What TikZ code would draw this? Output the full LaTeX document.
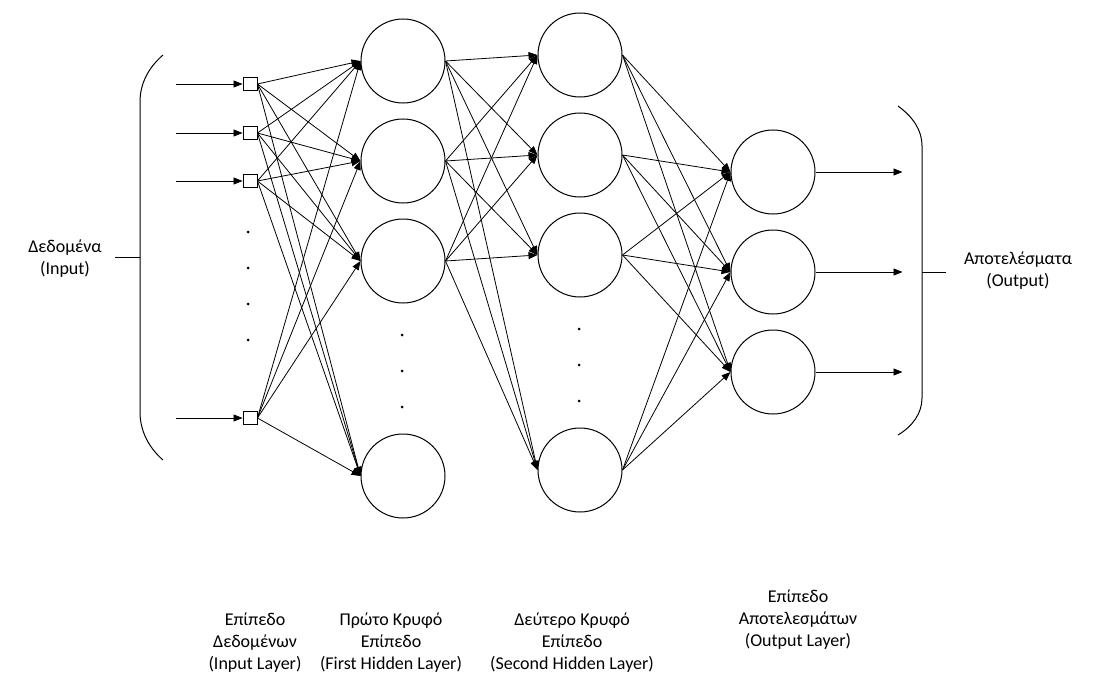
\documentclass[tikz,border=0pt]{standalone}
\usepackage{fontspec}
\setmainfont{Carlito}
\usetikzlibrary{arrows.meta}

\tikzset{
  neuron/.style={draw,circle,minimum size=84pt,inner sep=0pt,line width=1pt},
  inunit/.style={draw,rectangle,minimum width=14pt,minimum height=13pt,inner sep=0pt,line width=0.9pt},
  link/.style={line width=0.8pt,-{Triangle[length=9pt,width=7pt]}},
  vdot/.style={circle,fill,inner sep=0pt,minimum size=3pt},
  caption/.style={align=center,font=\fontsize{18}{22}\selectfont,inner sep=0pt}
}

\begin{document}
\begin{tikzpicture}[x=1pt,y=-1pt]
    \useasboundingbox (0,0) rectangle (1093,677);

    % input layer
    \node[inunit] (I1) at (250,84) {};
    \node[inunit] (I2) at (250,133) {};
    \node[inunit] (I3) at (250,181) {};
    \node[inunit] (I4) at (250,418) {};
    \foreach \i in {1,...,4} {
      \coordinate (S\i) at ([xshift=-67pt]I\i.west);
      \draw[link] (S\i) -- (I\i.west);
    }
    \foreach \y in {232,268,304,340}
      \node[vdot] at (248,\y) {};

    % first hidden layer
    \node[neuron] (H1) at (403,61) {};
    \node[neuron] (H2) at (403,161) {};
    \node[neuron] (H3) at (403,261) {};
    \node[neuron] (H4) at (403,476) {};
    \foreach \y in {335,371,407}
      \node[vdot] at (402,\y) {};

    % second hidden layer
    \node[neuron] (G1) at (580,55) {};
    \node[neuron] (G2) at (580,155) {};
    \node[neuron] (G3) at (580,255) {};
    \node[neuron] (G4) at (580,470) {};
    \foreach \y in {329,365,401}
      \node[vdot] at (579,\y) {};

    % output layer
    \node[neuron] (O1) at (773,172) {};
    \node[neuron] (O2) at (773,272) {};
    \node[neuron] (O3) at (773,372) {};
    \foreach \i in {1,2,3} {
      \coordinate (T\i) at ([xshift=87pt]O\i.east);
      \draw[link] (O\i.east) -- (T\i);
    }

    % weights
    \foreach \i in {1,...,4}
      \foreach \j in {1,...,4}
        \draw[link] (I\i.east) -- (H\j.west);
    \foreach \i in {1,2,3}
      \foreach \j in {1,...,4}
        \draw[link] (H\i.east) -- (G\j.west);
    \foreach \i in {1,...,4}
      \foreach \j in {1,2,3}
        \draw[link] (G\i.east) -- (O\j.west);

    % brackets
    \draw[line width=1pt] (163,55) .. controls (148,68) and (140,84) .. (140,102)
      -- (140,412) .. controls (140,430) and (148,447) .. (163,460);
    \coordinate (LB) at (140,257);
    \coordinate (LT) at (115,257);
    \draw[line width=1pt] (LT) -- (LB);
    \draw[line width=1pt] (898,106) .. controls (913,117) and (922,130) .. (922,146)
      -- (922,398) .. controls (922,413) and (913,426) .. (898,435);
    \coordinate (RB) at (922,272);
    \coordinate (RT) at (946,272);
    \draw[line width=1pt] (RB) -- (RT);

    % labels
    \node[caption] (inlabel) at (65,259) {Δεδομένα\\(Input)};
    \node[caption] (outlabel) at (1018,271) {Αποτελέσματα\\(Output)};
    \node[caption] (inlayer) at (255,643) {Επίπεδο\\Δεδομένων\\(Input Layer)};
    \node[caption] (h1layer) at (391,643) {Πρώτο Κρυφό\\Επίπεδο\\(First Hidden Layer)};
    \node[caption] (h2layer) at (572,643) {Δεύτερο Κρυφό\\Επίπεδο\\(Second Hidden Layer)};
    \node[caption] (outlayer) at (798,620) {Επίπεδο\\Αποτελεσμάτων\\(Output Layer)};
\end{tikzpicture}
\end{document}
